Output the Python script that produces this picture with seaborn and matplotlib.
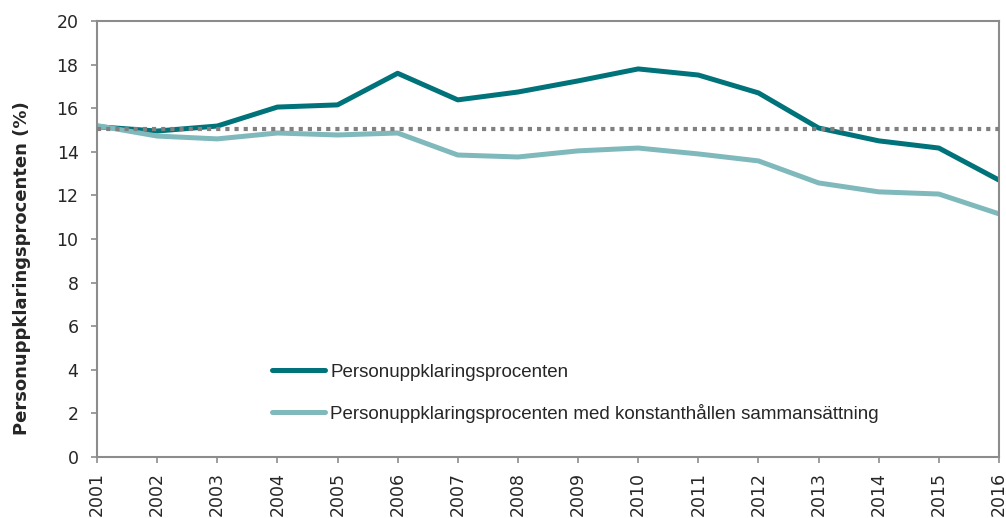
import matplotlib
matplotlib.use("Agg")
import matplotlib.pyplot as plt
import seaborn as sns
import pandas as pd

# data
years = list(range(2001, 2017))
uppklaring = [15.15, 14.95, 15.18, 16.05, 16.15, 17.6, 16.38, 16.74,
              17.25, 17.8, 17.52, 16.7, 15.09, 14.5, 14.17, 12.7]
konstant = [15.2, 14.72, 14.59, 14.86, 14.77, 14.86, 13.85, 13.76,
            14.04, 14.17, 13.9, 13.58, 12.57, 12.16, 12.06, 11.15]
referens = 15.05

labels = ["Personuppklaringsprocenten",
          "Personuppklaringsprocenten med konstanthållen sammansättning"]

df = pd.DataFrame({"year": years + years,
                   "value": uppklaring + konstant,
                   "serie": [labels[0]] * len(years) + [labels[1]] * len(years)})

sns.set_style("ticks")
plt.rcParams['font.family'] = ['Liberation Sans', 'DejaVu Sans']

fig = plt.figure(figsize=(10.06, 5.18), dpi=100)
ax = fig.add_axes([0.0964, 0.118, 0.8966, 0.8415])

ax.axhline(referens, color="#808080", lw=3, linestyle=(0, (1, 1.2)), zorder=3)
sns.lineplot(data=df, x="year", y="value", hue="serie",
             palette={labels[0]: "#00737A", labels[1]: "#80B9BC"},
             linewidth=3.6, ax=ax, zorder=2)

ax.set_xlim(2001, 2016)
ax.set_ylim(0, 20)
ax.set_xticks(years)
ax.set_xticklabels([str(y) for y in years], rotation=90, fontsize=12.5, family="DejaVu Sans")
ax.set_yticks(range(0, 21, 2))
ax.set_yticklabels([str(v) for v in range(0, 21, 2)], fontsize=12.5, family="DejaVu Sans")
ax.tick_params(axis="y", length=4.3, width=1.2, color="#8c8c8c", pad=9)
ax.tick_params(axis="x", length=4.3, width=1.2, color="#8c8c8c", pad=6.5)
for s in ax.spines.values():
    s.set_color("#8c8c8c")
    s.set_linewidth(1.5)

ax.set_xlabel("")
ax.set_ylabel("Personuppklaringsprocenten (%)", fontsize=13, fontweight="bold",
              family="DejaVu Sans")
ax.yaxis.set_label_coords(-0.0732, 0.432)

ax.legend(loc="center left", bbox_to_anchor=(0.194, 0.146), frameon=False,
          fontsize=13.5, handlelength=2.83, handletextpad=0.27, labelspacing=1.25,
          borderpad=0, borderaxespad=0)

fig.savefig("out.png", dpi=100)
